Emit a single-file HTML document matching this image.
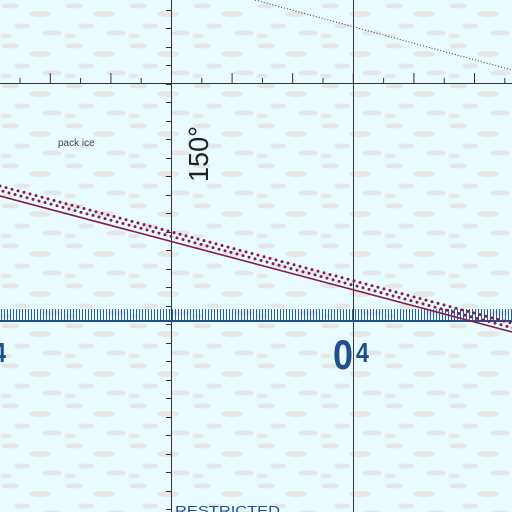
<!DOCTYPE html>
<html><head><meta charset="utf-8"><style>html,body{margin:0;padding:0;}svg{display:block}</style></head>
<body>
<svg width="512" height="512" viewBox="0 0 512 512" xmlns="http://www.w3.org/2000/svg" font-family="Liberation Sans, sans-serif">
<defs>
<pattern id="ice" width="64" height="40" patternUnits="userSpaceOnUse">
<rect width="64" height="40" fill="#e8fbfd"/>
<ellipse cx="10" cy="6" rx="9" ry="2.5" fill="#e4e6e6"/>
<ellipse cx="40" cy="14" rx="11" ry="3" fill="#e6e6e6"/>
<ellipse cx="22" cy="26" rx="8" ry="2.5" fill="#e4e6e6"/>
<ellipse cx="52" cy="33" rx="10" ry="2.5" fill="#e6e6e6"/>
<ellipse cx="6" cy="36" rx="6" ry="2" fill="#e6e6e6"/>
</pattern>
</defs>
<rect width="512" height="512" fill="url(#ice)"/>
<g stroke="#333" stroke-width="1">
<line x1="171.5" y1="0" x2="171.5" y2="512"/>
<line x1="353.5" y1="0" x2="353.5" y2="512"/>
<line x1="0" y1="83.5" x2="512" y2="83.5"/>
</g>
<g id="ticks" stroke="#333" stroke-width="1"></g>
<line x1="255" y1="0" x2="512" y2="70" stroke="#334" stroke-width="1" stroke-dasharray="1,2"/>
<g id="hatch" stroke="#2a5d99" stroke-width="1"></g>
<line x1="0" y1="321" x2="512" y2="321" stroke="#1f4f8f" stroke-width="2"/>
<g id="dots" fill="#8a1a4a"></g>
<line x1="0" y1="196" x2="512" y2="332" stroke="#8a1a4a" stroke-width="1.6"/>
<text x="58" y="146" font-size="10" fill="#445">pack ice</text>
<text x="0" y="0" font-size="28" fill="#222" transform="translate(208,182) rotate(-90)" textLength="56" lengthAdjust="spacingAndGlyphs">150°</text>
<text x="333" y="369" font-size="42" font-weight="bold" fill="#1f4f8f" textLength="20" lengthAdjust="spacingAndGlyphs">0</text>
<text x="356" y="362" font-size="28" font-weight="bold" fill="#1f4f8f" textLength="13" lengthAdjust="spacingAndGlyphs">4</text>
<text x="-7" y="362" font-size="28" font-weight="bold" fill="#1f4f8f" textLength="13" lengthAdjust="spacingAndGlyphs">4</text>
<text x="175" y="515" font-size="13" fill="#1f4f8f" textLength="105" lengthAdjust="spacingAndGlyphs">RESTRICTED</text>
</svg>
<script>
const NS="http://www.w3.org/2000/svg";
const t=document.getElementById('ticks');
function ln(g,x1,y1,x2,y2){const l=document.createElementNS(NS,'line');l.setAttribute('x1',x1);l.setAttribute('y1',y1);l.setAttribute('x2',x2);l.setAttribute('y2',y2);g.appendChild(l);}
for(let y=9.5;y<512;y+=18.5){ln(t,166,Math.round(y)+0.5,171,Math.round(y)+0.5);}
for(let i=-5;i<12;i++){const x=171.5+i*30.3;if(Math.abs(x-171.5)<2||x<0||x>512)continue;const long=(i%2===0);ln(t,x,83,x,long?73:78);}
const h=document.getElementById('hatch');
for(let x=1;x<512;x+=3){ln(h,x+0.5,309,x+0.5,321);}
const d=document.getElementById('dots');
for(let x=0;x<516;x+=6){for(let r=0;r<2;r++){const xx=x+r*3;const y=186+r*4.5+xx*0.268;const c=document.createElementNS(NS,'circle');c.setAttribute('cx',xx);c.setAttribute('cy',y);c.setAttribute('r',1.5);d.appendChild(c);}}
</script>
</body></html>
